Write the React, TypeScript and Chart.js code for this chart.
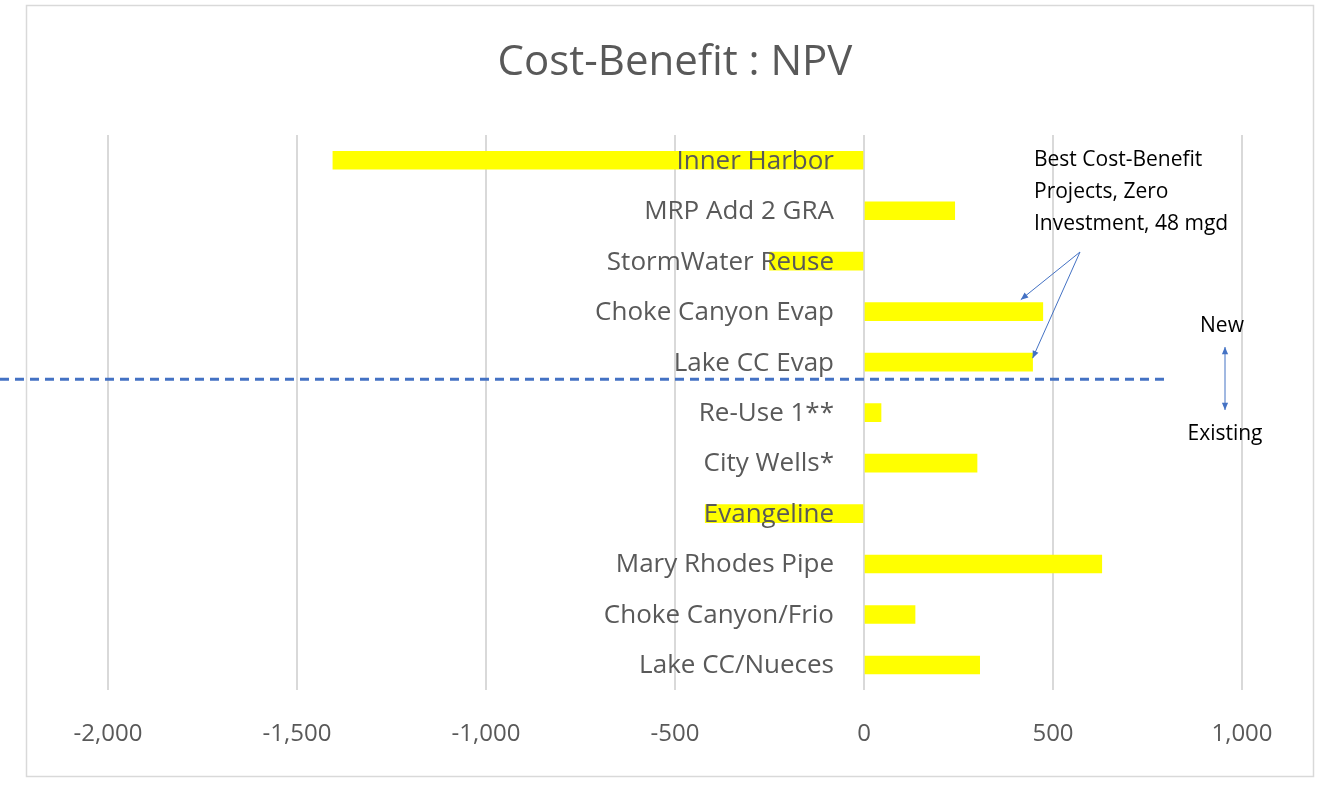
import React, { useEffect, useRef } from "react";
import { Chart, registerables } from "chart.js";
Chart.register(...registerables);

const categories = ["Inner Harbor","MRP Add 2 GRA","StormWater Reuse","Choke Canyon Evap","Lake CC Evap","Re-Use 1**","City Wells*","Evangeline","Mary Rhodes Pipe","Choke Canyon/Frio","Lake CC/Nueces"];
const npv = [-1405,240,-250,473,446,45,299,-420,629,135,306];
const xTicks = [-2000,-1500,-1000,-500,0,500,1000];
const title = "Cost-Benefit : NPV";
const noteLines = ["Best Cost-Benefit","Projects, Zero","Investment, 48 mgd"];

const GREY = "#595959";
const BLUE = "#4472C4";

function arrow(ctx: CanvasRenderingContext2D, x1: number, y1: number, x2: number, y2: number, both = false) {
  ctx.beginPath(); ctx.moveTo(x1, y1); ctx.lineTo(x2, y2); ctx.stroke();
  const head = (ax: number, ay: number, bx: number, by: number) => {
    const a = Math.atan2(by - ay, bx - ax), L = 8;
    ctx.beginPath();
    ctx.moveTo(bx, by);
    ctx.lineTo(bx - L * Math.cos(a - 0.4), by - L * Math.sin(a - 0.4));
    ctx.lineTo(bx - L * Math.cos(a + 0.4), by - L * Math.sin(a + 0.4));
    ctx.closePath(); ctx.fill();
  };
  head(x1, y1, x2, y2);
  if (both) head(x2, y2, x1, y1);
}

const overlay = {
  id: "overlay",
  beforeDraw(chart: any) {
    const ctx = chart.ctx;
    ctx.save();
    ctx.fillStyle = "#fff"; ctx.fillRect(0, 0, chart.width, chart.height);
    ctx.strokeStyle = "#d9d9d9"; ctx.lineWidth = 1.5;
    ctx.strokeRect(26.5, 5.5, 1287, 771);
    ctx.restore();
  },
  afterDatasetsDraw(chart: any) {
    const ctx = chart.ctx;
    const xs = chart.scales.x, ys = chart.scales.y;
    const x0 = xs.getPixelForValue(0);
    ctx.save();
    ctx.fillStyle = GREY;
    ctx.font = "42px 'Open Sans'";
    ctx.textAlign = "center"; ctx.textBaseline = "middle";
    ctx.fillText(title, (chart.chartArea.left + chart.chartArea.right) / 2, 63);
    ctx.font = "26px 'Open Sans'";
    ctx.textAlign = "right";
    categories.forEach((c, i) => ctx.fillText(c, x0 - 30, ys.getPixelForValue(i) + 1));
    const yd = (ys.getPixelForValue(4) + ys.getPixelForValue(5)) / 2 - 8;
    ctx.strokeStyle = BLUE; ctx.lineWidth = 3; ctx.setLineDash([9, 6]);
    ctx.beginPath(); ctx.moveTo(0, yd); ctx.lineTo(xs.getPixelForValue(800), yd); ctx.stroke();
    ctx.setLineDash([]);
    ctx.fillStyle = "#000"; ctx.font = "21px 'Open Sans'"; ctx.textAlign = "left";
    noteLines.forEach((t, i) => ctx.fillText(t, 1034, 160 + i * 32));
    ctx.strokeStyle = BLUE; ctx.fillStyle = BLUE; ctx.lineWidth = 1;
    arrow(ctx, 1080, 252, xs.getPixelForValue(npv[3]) - 22, ys.getPixelForValue(3) - 12);
    arrow(ctx, 1080, 252, xs.getPixelForValue(npv[4]), ys.getPixelForValue(4) - 4);
    ctx.fillStyle = "#000";
    ctx.textAlign = "center";
    ctx.fillText("New", 1222, 326);
    ctx.fillText("Existing", 1225, 434);
    ctx.fillStyle = BLUE;
    arrow(ctx, 1225, 347, 1225, 410, true);
    ctx.restore();
  },
};

export default function App() {
  const ref = useRef<HTMLCanvasElement>(null);
  useEffect(() => {
    const chart = new Chart(ref.current!, {
      type: "bar",
      data: { labels: categories, datasets: [{ data: npv, backgroundColor: "#FFFF00", barThickness: 18 }] },
      options: {
        indexAxis: "y",
        animation: false,
        responsive: false,
        layout: { padding: { left: 108, right: 86, top: 135, bottom: 7 } },
        plugins: { legend: { display: false }, tooltip: { enabled: false } },
        scales: {
          x: {
            min: -2000, max: 1000,
            afterBuildTicks: (s: any) => { s.ticks = xTicks.map((v) => ({ value: v })); },
            grid: { color: "#d9d9d9", lineWidth: 2, drawTicks: false },
            border: { display: false },
            ticks: { color: GREY, font: { size: 24, family: "'Open Sans'" }, padding: 30 },
          },
          y: { display: false, grid: { display: false } },
        },
      },
      plugins: [overlay],
    });
    return () => chart.destroy();
  }, []);
  return (
    <div style={{ position: "absolute", left: 0, top: 0 }}>
      <canvas ref={ref} width={1328} height={786} />
    </div>
  );
}
